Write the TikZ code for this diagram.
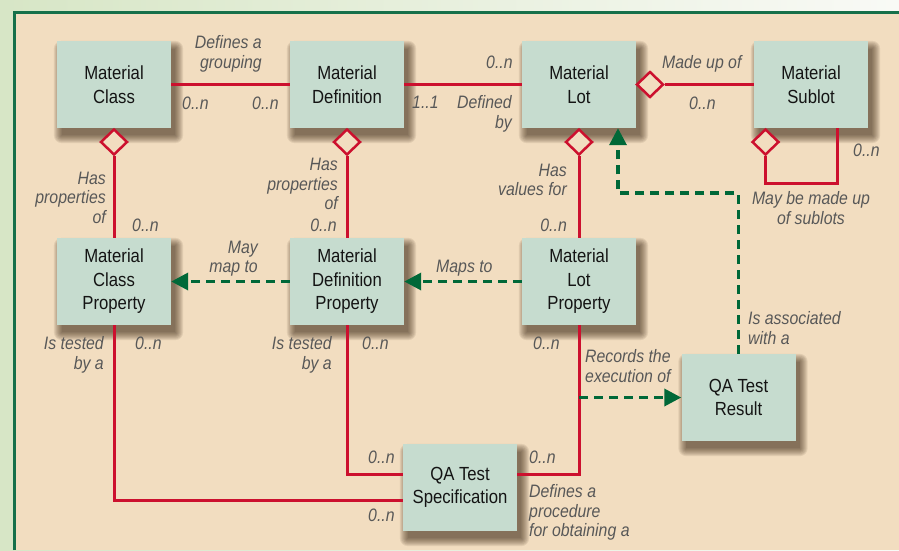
\documentclass[tikz,border=0pt]{standalone}
\usepackage{fontspec}
\setmainfont{Liberation Sans}[FakeStretch=0.88]
\usetikzlibrary{arrows.meta,shapes.geometric,calc}
\definecolor{bgtan}{RGB}{242,221,192}
\definecolor{boxfill}{RGB}{198,220,207}
\definecolor{boxtext}{RGB}{20,20,20}
\definecolor{lblgray}{RGB}{88,88,88}
\definecolor{redline}{RGB}{204,16,46}
\definecolor{greenline}{RGB}{0,104,56}
\definecolor{framegreen}{RGB}{22,112,74}
\definecolor{outerleft}{RGB}{215,230,198}
\definecolor{outerright}{RGB}{249,250,246}
\definecolor{shadowc}{RGB}{60,40,20}
\pgfdeclarelayer{bg}
\pgfdeclarelayer{shadowlayer}
\pgfsetlayers{bg,shadowlayer,main}
\begin{document}
\begin{tikzpicture}[x=1pt,y=-1pt,
  box/.style={fill=boxfill, minimum width=114pt, minimum height=87pt, inner sep=0pt,
    align=center, text=boxtext, font=\fontsize{19}{23.5}\selectfont},
  lbl/.style={inner sep=0pt, text=lblgray, font=\fontsize{18}{19.5}\selectfont\itshape},
  rl/.style={draw=redline, line width=3pt},
  dia/.style={diamond, draw=redline, line width=2.5pt, fill=bgtan, minimum width=27pt, minimum height=26pt, inner sep=0pt},
  gd/.style={draw=greenline, line width=3.5pt, dash pattern=on 9pt off 6pt},
  ga/.style={gd, -{Triangle[width=17pt,length=17pt]}},
  softshadow/.style={fill=shadowc, fill opacity=0.09},
]
\useasboundingbox (0,0) rectangle (899,550);
% background
\begin{pgfonlayer}{bg}
\shade[left color=outerleft, right color=outerright] (0,0) rectangle (899,550);
\fill[bgtan] (14,12) rectangle (899,550);
\draw[framegreen, line width=3pt] (14.5,550) -- (14.5,12.5) -- (899,12.5);
\end{pgfonlayer}

% boxes
\node[box] (mc) at (114,84.5) {Material\\Class};
\node[box] (md) at (347,84.5) {Material\\Definition};
\node[box] (ml) at (579,84.5) {Material\\Lot};
\node[box] (ms) at (811,84.5) {Material\\Sublot};
\node[box] (mcp) at (114,281.5) {Material\\Class\\Property};
\node[box] (mdp) at (347,281.5) {Material\\Definition\\Property};
\node[box] (mlp) at (579,281.5) {Material\\Lot\\Property};
\node[box] (qar) at (738.5,397.5) {QA Test\\Result};
\node[box] (qas) at (460,487.5) {QA Test\\Specification};

% soft shadows
\begin{pgfonlayer}{shadowlayer}
\foreach \n in {mc,md,ml,ms,mcp,mdp,mlp,qar,qas}{
  \foreach \e in {0,1,...,8}{
    \fill[softshadow, rounded corners=\e pt]
      ($(\n.north west)+(5-\e,8-\e)$) rectangle ($(\n.south east)+(4+\e,7+\e)$);
  }
}
\end{pgfonlayer}

% diamonds
\node[dia] (d1) at (114,142) {};
\node[dia] (d2) at (347,142) {};
\node[dia] (d3) at (579,142) {};
\node[dia] (d4) at (650,84.5) {};
\node[dia] (d5) at (765.5,142) {};

% red connectors
\draw[rl] (mc.east) -- (md.west);
\draw[rl] (md.east) -- (ml.west);
\draw[rl] (d4.east) -- (ms.west);
\draw[rl] (d1.south) -- (mcp.north);
\draw[rl] (d2.south) -- (mdp.north);
\draw[rl] (d3.south) -- (mlp.north);
\coordinate (loopc) at (837,183);
\draw[rl] (d5.south) |- (loopc) -- (loopc |- ms.south);
\draw[rl] (mlp.south) |- ([yshift=13.5pt]qas.east);
\draw[rl] (mdp.south) |- ([yshift=13.5pt]qas.west);
\draw[rl] (mcp.south) |- ([yshift=-12.5pt]qas.west);

% green dashed connectors
\coordinate (gb) at (618,193);
\draw[ga] (qar.north) |- (gb) -- (gb |- ml.south);
\draw[ga] (mlp.west) -- (mdp.east);
\draw[ga] (mdp.west) -- (mcp.east);
\draw[ga] (mlp.south |- qar.west) -- (qar.west);

% labels
\node[lbl, anchor=north east, align=right] (l1) at (262,35.5) {Defines a\\grouping};
\node[lbl, anchor=west] (l2) at (182,103) {0..n};
\node[lbl, anchor=west] (l3) at (252,103) {0..n};
\node[lbl, anchor=west] (l4) at (412,102) {1..1};
\node[lbl, anchor=west] (l5) at (486,62) {0..n};
\node[lbl, anchor=north east, align=right] (l6) at (512,95.5) {Defined\\by};
\node[lbl, anchor=north west] (l7) at (662,55.5) {Made up of};
\node[lbl, anchor=west] (l8) at (689,103) {0..n};
\node[lbl, anchor=west] (l9) at (853,150) {0..n};
\node[lbl, anchor=north, align=center] (l10) at (811,191.5) {May be made up\\of sublots};
\node[lbl, anchor=north east, align=right] (l11) at (106,171.5) {Has\\properties\\of};
\node[lbl, anchor=west] (l12) at (132,225) {0..n};
\node[lbl, anchor=north east, align=right] (l13) at (338,158) {Has\\properties\\of};
\node[lbl, anchor=east] (l14) at (337,225) {0..n};
\node[lbl, anchor=north east, align=right] (l15) at (567,163.5) {Has\\values for};
\node[lbl, anchor=east] (l16) at (567,225) {0..n};
\node[lbl, anchor=north east, align=right] (l17) at (258,240.5) {May\\map to};
\node[lbl, anchor=north west] (l18) at (436,259.5) {Maps to};
\node[lbl, anchor=north east, align=right] (l19) at (104,336.5) {Is tested\\by a};
\node[lbl, anchor=west] (l20) at (135,343) {0..n};
\node[lbl, anchor=north east, align=right] (l21) at (332,336.5) {Is tested\\by a};
\node[lbl, anchor=west] (l22) at (362,343) {0..n};
\node[lbl, anchor=west] (l23) at (533,343) {0..n};
\node[lbl, anchor=north west, align=left] (l24) at (585,349.5) {Records the\\execution of};
\node[lbl, anchor=north west, align=left] (l25) at (748,311.5) {Is associated\\with a};
\node[lbl, anchor=west] (l26) at (368,457) {0..n};
\node[lbl, anchor=west] (l27) at (368,515) {0..n};
\node[lbl, anchor=west] (l28) at (529,457) {0..n};
\node[lbl, anchor=north west, align=left] (l29) at (529,484.5) {Defines a\\procedure\\for obtaining a};
\end{tikzpicture}
\end{document}
